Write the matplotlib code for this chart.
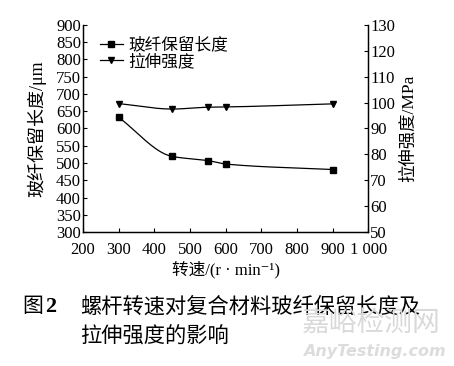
import matplotlib.pyplot as plt
import numpy as np
from matplotlib import font_manager

names = sorted({f.name for f in font_manager.fontManager.ttflist})
serif_name = 'Liberation Serif' if 'Liberation Serif' in names else 'DejaVu Serif'
plt.rcParams['font.family'] = [serif_name, 'Noto Sans CJK SC', 'DejaVu Serif']

# screw speed (r/min)
speed = [300, 450, 550, 600, 900]
fiber_length = [632, 519, 507, 497, 481]      # um
tensile_strength = [99.6, 97.5, 98.2, 98.3, 99.5]  # MPa

cjk = ['Noto Sans CJK SC', serif_name]
mixed = [serif_name, 'Noto Sans CJK SC', 'DejaVu Serif']


def smooth(x, y, n=200):
    # monotone cubic (pchip-like) curve through the points, for drawing only
    x = np.asarray(x, float)
    y = np.asarray(y, float)
    h = np.diff(x)
    d = np.diff(y) / h
    m = np.zeros_like(y)
    for i in range(1, len(y) - 1):
        if d[i - 1] * d[i] > 0:
            w1 = 2 * h[i] + h[i - 1]
            w2 = h[i] + 2 * h[i - 1]
            m[i] = (w1 + w2) / (w1 / d[i - 1] + w2 / d[i])
    m[0] = d[0]
    m[-1] = d[-1]
    xs = np.linspace(x[0], x[-1], n)
    k = np.clip(np.searchsorted(x, xs) - 1, 0, len(x) - 2)
    t = (xs - x[k]) / h[k]
    h00 = 2 * t**3 - 3 * t**2 + 1
    h10 = t**3 - 2 * t**2 + t
    h01 = -2 * t**3 + 3 * t**2
    h11 = t**3 - t**2
    ys = h00 * y[k] + h10 * h[k] * m[k] + h01 * y[k + 1] + h11 * h[k] * m[k + 1]
    return xs, ys


fig = plt.figure(figsize=(4.54, 3.66), dpi=100)
ax = fig.add_axes([0.183, 0.366, 0.628, 0.566])
ax2 = ax.twinx()

xs, ys = smooth(speed, fiber_length)
ax.plot(xs, ys, color='black', lw=0.9)
ax.plot(speed, fiber_length, 's', color='black', ms=4)
ax.plot([], [], '-s', color='black', ms=4, lw=0.9, label='玻纤保留长度')
ax.plot([], [], '-v', color='black', ms=4.5, lw=0.9, label='拉伸强度')

xs, ys = smooth(speed, tensile_strength)
ax2.plot(xs, ys, color='black', lw=0.9)
ax2.plot(speed, tensile_strength, 'v', color='black', ms=4.5)

ax.set_xlim(200, 1000)
ax.set_ylim(300, 900)
ax2.set_ylim(50, 130)
ax.set_xticks(range(200, 1001, 100))
ax.set_xticklabels([str(v) for v in range(200, 901, 100)] + ['1 000'])
ax.set_yticks(range(300, 901, 50))
ax2.set_yticks(range(50, 131, 10))

for a in (ax, ax2):
    a.spines['top'].set_visible(False)
    a.tick_params(direction='in', length=3, width=0.8, labelsize=12, pad=1.5)
    for s in a.spines.values():
        s.set_linewidth(0.9)
    for lab in a.get_xticklabels() + a.get_yticklabels():
        lab.set_fontfamily(serif_name)
ax.tick_params(axis='x', pad=7)

ax.set_ylabel('玻纤保留长度/μm', family=mixed, fontsize=13, labelpad=7)
ax2.set_ylabel('拉伸强度/MPa', family=mixed, fontsize=12.5, labelpad=4)
ax.set_xlabel('转速/(r · min⁻¹)', family=mixed, fontsize=12, labelpad=2)

leg = ax.legend(loc='upper left', bbox_to_anchor=(0.035, 0.97), frameon=False,
                prop={'family': mixed, 'size': 12}, handlelength=1.4,
                handletextpad=0.3, labelspacing=0.02, borderaxespad=0)

fig.text(0.048, 0.147, '图', family=cjk, fontsize=15)
fig.text(0.1, 0.147, '2', family=serif_name, fontsize=16, weight='bold')
fig.text(0.176, 0.147, '螺杆转速对复合材料玻纤保留长度及', family=cjk, fontsize=15.3)
fig.text(0.176, 0.065, '拉伸强度的影响', family=cjk, fontsize=15.3)

# watermark
fig.text(0.665, 0.095, '嘉峪检测网', family=cjk, fontsize=20, color='#d9d9d9')
fig.text(0.667, 0.028, 'AnyTesting.com', family='DejaVu Sans', style='italic',
         weight='bold', fontsize=11.5, color='#dcdcdc')

fig.savefig('out.png', dpi=100)
